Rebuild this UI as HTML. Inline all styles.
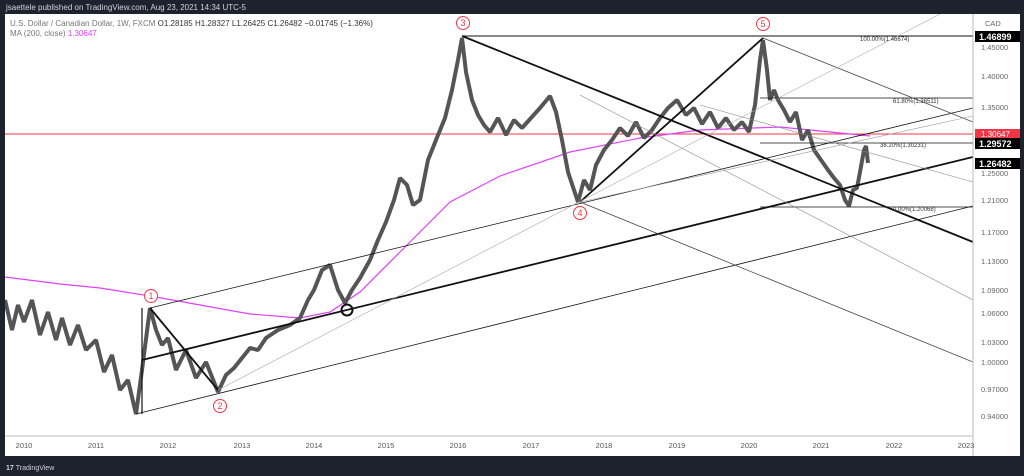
<!DOCTYPE html>
<html><head><meta charset="utf-8"><style>
body{margin:0;background:#1e222d;width:1024px;height:476px;overflow:hidden;font-family:"Liberation Sans",sans-serif}
svg{position:absolute;left:0;top:0}
</style></head><body>
<svg width="1024" height="476" viewBox="0 0 1024 476" xmlns="http://www.w3.org/2000/svg" font-family="Liberation Sans, sans-serif">
<rect x="0" y="0" width="1024" height="476" fill="#1e222d"/>
<text x="6" y="10" font-size="8" fill="#d1d4dc">jsaettele published on TradingView.com, Aug 23, 2021 14:34 UTC-5</text>
<rect x="5" y="14" width="1015" height="442" fill="#fff"/>
<text x="10" y="26" font-size="8" fill="#777">U.S. Dollar / Canadian Dollar, 1W, FXCM <tspan fill="#333">O1.28185 H1.28327 L1.26425 C1.26482 −0.01745 (−1.36%)</tspan></text>
<text x="10" y="36" font-size="8" fill="#777">MA (200, close) <tspan fill="#e040fb">1.30647</tspan></text>
<g clip-path="url(#c)">
<clipPath id="c"><rect x="5" y="14" width="968" height="422"/></clipPath>
<line x1="5" y1="134" x2="973" y2="134" stroke="#f23645" stroke-width="1"/>
<polyline fill="none" stroke="#e040fb" stroke-width="1.2" points="5,277 60,284 100,288 150,296 200,305 250,314 300,318 330,312 360,292 400,252 450,202 500,176 570,152 640,138 700,130 780,127 820,131 870,136"/>
<polyline fill="none" stroke="#555" stroke-width="4" stroke-linejoin="bevel" points="5,300 12,330 18,305 24,322 32,300 40,335 48,312 56,340 62,318 70,345 78,325 86,350 96,340 104,372 112,355 120,390 128,380 136,414 142,370 150,308 156,330 162,345 168,338 176,370 186,350 196,378 206,362 218,392 226,375 234,368 242,358 250,348 258,350 266,338 278,330 290,325 300,318 308,300 314,290 322,270 330,265 338,290 345,303 352,290 360,278 370,260 378,240 386,222 394,200 400,178 407,185 413,205 420,200 428,160 436,140 445,118 452,90 458,60 462,38 466,72 472,100 478,115 484,125 490,132 498,118 506,135 514,120 522,128 531,118 540,108 550,96 556,112 562,140 568,172 574,190 578,202 584,180 590,190 596,165 604,150 612,140 620,128 628,136 636,122 644,138 652,130 660,118 668,108 677,100 686,115 694,108 702,124 710,112 718,128 726,118 734,130 742,122 749,132 755,105 760,60 763,40 767,70 770,100 774,90 778,100 784,110 790,122 796,112 802,140 808,130 814,150 821,160 828,170 834,178 840,185 845,200 849,206 853,190 857,188 860,172 864,150 866,146 868,163"/>
<g stroke="#111" fill="none">
<line x1="462" y1="36" x2="973" y2="36" stroke-width="1"/>
<line x1="760" y1="98" x2="973" y2="98" stroke-width="0.8"/>
<line x1="760" y1="143" x2="973" y2="143" stroke-width="0.8"/>
<line x1="760" y1="207" x2="973" y2="207" stroke-width="0.8"/>
<line x1="462" y1="36" x2="973" y2="242" stroke-width="1.8"/>
<line x1="580" y1="202" x2="763" y2="38" stroke-width="1.8"/>
<line x1="142" y1="360" x2="973" y2="157" stroke-width="1.8"/>
<line x1="150" y1="308" x2="218" y2="390" stroke-width="1.8"/>
<line x1="142" y1="308" x2="142" y2="414" stroke-width="1.2"/>
<line x1="136" y1="414" x2="973" y2="206" stroke-width="0.8"/>
<line x1="150" y1="308" x2="973" y2="108" stroke-width="0.8"/>
<line x1="580" y1="202" x2="973" y2="362" stroke-width="0.8" stroke="#444"/>
<line x1="763" y1="38" x2="973" y2="122" stroke-width="0.8" stroke="#444"/>
<line x1="580" y1="95" x2="973" y2="300" stroke-width="0.6" stroke="#888"/>
<line x1="700" y1="105" x2="973" y2="182" stroke-width="0.6" stroke="#888"/>
<line x1="218" y1="390" x2="940" y2="14" stroke-width="0.6" stroke="#aaa"/>
<line x1="580" y1="202" x2="973" y2="116" stroke-width="0.6" stroke="#999"/>
</g>
<g font-size="6" fill="#333"><text x="860" y="41">100.00%(1.46674)</text><text x="893" y="103">61.80%(1.36511)</text><text x="880" y="147">38.20%(1.30231)</text><text x="893" y="211">0.00%(1.20068)</text></g>
<circle cx="347" cy="310" r="5.5" fill="none" stroke="#111" stroke-width="2"/>
<g fill="#fff" stroke="#f23645" stroke-width="1"><circle cx="151" cy="296" r="6.5"/><circle cx="220" cy="406" r="6.5"/><circle cx="463" cy="23" r="6.5"/><circle cx="580" cy="213" r="6.5"/><circle cx="763" cy="24" r="6.5"/></g>
<g fill="#f23645" font-size="9" text-anchor="middle"><text x="151" y="299">1</text><text x="220" y="409">2</text><text x="463" y="26">3</text><text x="580" y="216">4</text><text x="763" y="27">5</text></g>
</g>
<line x1="973" y1="14" x2="973" y2="456" stroke="#bbb"/>
<line x1="5" y1="436" x2="973" y2="436" stroke="#bbb"/>
<g font-size="7.5" fill="#666">
<text x="985" y="26">CAD</text>
<text x="981" y="50">1.45000</text><text x="981" y="79">1.40000</text><text x="981" y="110">1.35000</text>
<text x="981" y="176">1.25000</text><text x="981" y="203">1.21000</text><text x="981" y="235">1.17000</text>
<text x="981" y="264">1.13000</text><text x="981" y="293">1.09000</text><text x="981" y="316">1.06000</text>
<text x="981" y="345">1.03000</text><text x="981" y="365">1.00000</text><text x="981" y="392">0.97000</text><text x="981" y="419">0.94000</text>
</g>
<rect x="975" y="129" width="45" height="10" fill="#f23645"/><text x="981" y="137" font-size="8" fill="#fff">1.30647</text>
<rect x="975" y="31" width="45" height="11" fill="#000"/><text x="979" y="40" font-size="9" font-weight="bold" fill="#fff">1.46899</text>
<rect x="975" y="138" width="45" height="11" fill="#000"/><text x="979" y="147" font-size="9" font-weight="bold" fill="#fff">1.29572</text>
<rect x="975" y="158" width="45" height="11" fill="#000"/><text x="979" y="167" font-size="9" font-weight="bold" fill="#fff">1.26482</text>
<g font-size="7.5" fill="#555" text-anchor="middle">
<text x="24" y="448">2010</text><text x="96" y="448">2011</text><text x="168" y="448">2012</text><text x="242" y="448">2013</text><text x="314" y="448">2014</text><text x="386" y="448">2015</text><text x="458" y="448">2016</text><text x="531" y="448">2017</text><text x="604" y="448">2018</text><text x="677" y="448">2019</text><text x="749" y="448">2020</text><text x="821" y="448">2021</text><text x="894" y="448">2022</text><text x="966" y="448">2023</text>
</g>
<text x="6" y="470" font-size="7" font-weight="bold" fill="#d1d4dc">17 <tspan font-weight="normal">TradingView</tspan></text>
</svg>
</body></html>
